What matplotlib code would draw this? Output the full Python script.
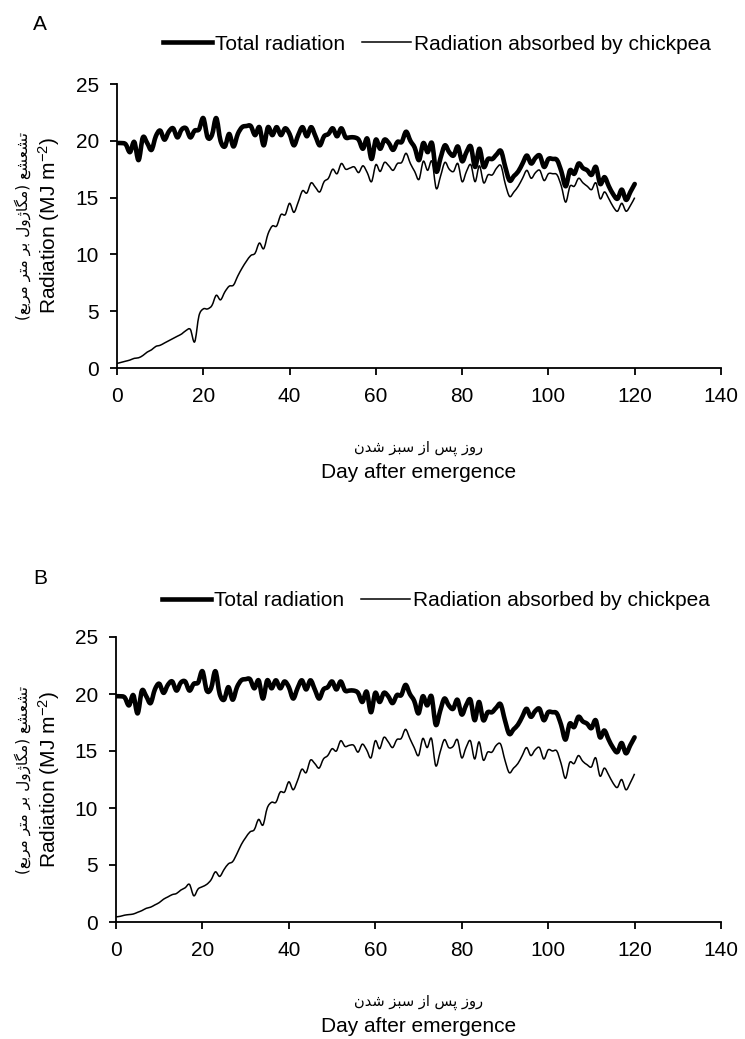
import matplotlib
matplotlib.use("Agg")
import matplotlib.pyplot as plt
from matplotlib.path import Path
from matplotlib.patches import PathPatch
from matplotlib.lines import Line2D

plt.rcParams["font.family"] = ["Liberation Sans", "DejaVu Sans"]
plt.rcParams["mathtext.fontset"] = "custom"
plt.rcParams["mathtext.rm"] = "Liberation Sans"
plt.rcParams["mathtext.it"] = "Liberation Sans:italic"

days = list(range(0, 121))

total_radiation = [
    19.8, 19.8, 19.7, 19.0, 19.9, 18.3, 20.3, 19.8, 19.2, 20.4,
    20.9, 20.1, 20.8, 21.1, 20.3, 21.0, 21.1, 20.3, 20.9, 21.0,
    22.0, 20.3, 20.5, 22.0, 20.0, 19.5, 20.6, 19.5, 20.6, 21.2,
    21.3, 21.3, 20.5, 21.2, 19.6, 21.2, 20.5, 21.2, 20.5, 21.1,
    20.6, 19.6, 20.5, 21.2, 20.4, 21.2, 20.4, 19.6, 20.4, 20.6,
    21.1, 20.4, 21.1, 20.3, 20.3, 20.3, 20.1, 19.3, 20.2, 18.4,
    20.1, 19.3, 20.1, 19.8, 19.2, 19.9, 19.9, 20.8, 20.0, 19.4,
    18.3, 19.8, 19.0, 19.8, 17.3, 18.5, 19.6, 19.0, 18.7, 19.5,
    18.2, 19.0, 19.5, 17.7, 19.3, 17.7, 18.4, 18.4, 18.8, 19.1,
    17.7, 16.5, 16.9, 17.3, 18.0, 18.7, 18.0, 18.5, 18.7, 17.7,
    18.4, 18.4, 18.3, 17.3, 16.0, 17.4, 17.1, 18.0, 17.6, 17.4,
    17.0, 17.7, 16.2, 16.8, 16.0, 15.3, 14.9, 15.7, 14.8, 15.5,
    16.2,
]

absorbed_a = [
    0.4, 0.5, 0.6, 0.7, 0.85, 0.9, 1.1, 1.4, 1.6, 1.9,
    2.0, 2.2, 2.4, 2.6, 2.8, 3.0, 3.3, 3.4, 2.3, 4.6,
    5.2, 5.2, 5.5, 6.4, 6.0, 6.7, 7.2, 7.3, 8.1, 8.8,
    9.4, 9.9, 10.1, 11.0, 10.5, 11.8, 12.5, 12.5, 13.5, 13.5,
    14.5, 13.7, 14.6, 15.6, 15.4, 16.3, 15.9, 15.5, 16.4, 16.7,
    17.5, 17.1, 18.0, 17.5, 17.6, 17.7, 17.2, 17.8, 17.2, 16.4,
    17.9, 17.3, 18.1, 17.8, 17.4, 18.0, 18.1, 18.9, 18.0, 17.3,
    16.6, 18.2, 17.4, 18.2, 15.8, 16.9, 18.1, 17.5, 17.3, 18.0,
    16.4, 17.3, 17.9, 16.4, 17.8, 16.3, 17.0, 17.0, 17.6, 17.8,
    16.2, 15.1, 15.5, 16.0, 16.7, 17.4, 16.7, 17.2, 17.4, 16.5,
    17.1, 17.1, 17.0, 16.0, 14.6, 16.0, 16.0, 16.7, 16.3, 16.0,
    15.7, 16.3, 14.9, 15.5, 14.9, 14.2, 13.8, 14.5, 13.8, 14.3,
    15.0,
]

absorbed_b = [
    0.45, 0.5, 0.6, 0.65, 0.7, 0.85, 1.0, 1.2, 1.3, 1.5,
    1.7, 2.0, 2.2, 2.4, 2.5, 2.8, 3.0, 3.3, 2.3, 2.9,
    3.1, 3.3, 3.7, 4.4, 4.0, 4.6, 5.1, 5.3, 6.0, 6.8,
    7.4, 7.9, 8.1, 9.0, 8.5, 10.0, 10.5, 10.5, 11.4, 11.4,
    12.3, 11.6, 12.4, 13.4, 13.1, 14.2, 13.9, 13.5, 14.3, 14.6,
    15.2, 15.0, 15.9, 15.4, 15.5, 15.5, 14.9, 15.6, 15.1, 14.4,
    15.9, 15.2, 16.2, 15.8, 15.3, 16.0, 16.1, 16.9, 16.1, 15.3,
    14.6, 16.1, 15.3, 16.1, 13.7, 14.9, 16.0, 15.3, 15.4, 16.0,
    14.4, 15.3, 15.9, 14.3, 15.8, 14.2, 14.9, 14.9, 15.5, 15.6,
    14.2, 13.1, 13.5, 13.9, 14.6, 15.3, 14.6, 15.1, 15.3, 14.3,
    15.1, 15.0, 15.0, 13.9, 12.6, 14.0, 13.9, 14.6, 14.1, 13.8,
    13.6, 14.4, 12.8, 13.5, 12.9, 12.2, 11.8, 12.5, 11.6, 12.2,
    13.0,
]

x_ticks = [0, 20, 40, 60, 80, 100, 120, 140]
y_ticks = [0, 5, 10, 15, 20, 25]

# Persian labels (logical order); shaped below because matplotlib has no bidi/shaping
FA_XLABEL = "روز پس از سبز شدن"
FA_YLABEL = "تشعشع (مگاژول بر متر مربع)"

# isolated, final, initial, medial
FORMS = {
    "ا": ("\uFE8D", "\uFE8E", None, None),
    "ب": ("\uFE8F", "\uFE90", "\uFE91", "\uFE92"),
    "پ": ("\uFB56", "\uFB57", "\uFB58", "\uFB59"),
    "ت": ("\uFE95", "\uFE96", "\uFE97", "\uFE98"),
    "د": ("\uFEA9", "\uFEAA", None, None),
    "ر": ("\uFEAD", "\uFEAE", None, None),
    "ز": ("\uFEAF", "\uFEB0", None, None),
    "ژ": ("\uFB8A", "\uFB8B", None, None),
    "س": ("\uFEB1", "\uFEB2", "\uFEB3", "\uFEB4"),
    "ش": ("\uFEB5", "\uFEB6", "\uFEB7", "\uFEB8"),
    "ع": ("\uFEC9", "\uFECA", "\uFECB", "\uFECC"),
    "گ": ("\uFB92", "\uFB93", "\uFB94", "\uFB95"),
    "ل": ("\uFEDD", "\uFEDE", "\uFEDF", "\uFEE0"),
    "م": ("\uFEE1", "\uFEE2", "\uFEE3", "\uFEE4"),
    "ن": ("\uFEE5", "\uFEE6", "\uFEE7", "\uFEE8"),
    "و": ("\uFEED", "\uFEEE", None, None),
}


def shape_rtl(text):
    out = []
    for i, c in enumerate(text):
        if c not in FORMS:
            out.append(c)
            continue
        iso, fin, ini, med = FORMS[c]
        prev = text[i - 1] if i > 0 else ""
        nxt = text[i + 1] if i + 1 < len(text) else ""
        jp = prev in FORMS and FORMS[prev][2] is not None
        jn = ini is not None and nxt in FORMS
        if jp and jn:
            out.append(med)
        elif jp:
            out.append(fin)
        elif jn:
            out.append(ini)
        else:
            out.append(iso)
    return "".join(reversed(out)).translate(str.maketrans("()", ")("))


def smooth_path(xs, ys):
    # Excel-style smoothed line: Bezier segments through the data points
    verts = [(xs[0], ys[0])]
    codes = [Path.MOVETO]
    n = len(xs)
    for i in range(n - 1):
        x0, y0 = (xs[i - 1], ys[i - 1]) if i > 0 else (xs[i], ys[i])
        x1, y1 = xs[i], ys[i]
        x2, y2 = xs[i + 1], ys[i + 1]
        x3, y3 = (xs[i + 2], ys[i + 2]) if i + 2 < n else (x2, y2)
        verts += [(x1 + (x2 - x0) / 6, y1 + (y2 - y0) / 6),
                  (x2 - (x3 - x1) / 6, y2 - (y3 - y1) / 6),
                  (x2, y2)]
        codes += [Path.CURVE4] * 3
    return Path(verts, codes)


FA_FONT = ["DejaVu Sans", "Noto Sans"]

W, H = 745, 1039
fig = plt.figure(figsize=(W / 100, H / 100), dpi=100)

panels = [
    ("A", absorbed_a, [117 / W, 1 - 368 / H, 604 / W, 284 / H], 40),
    ("B", absorbed_b, [116 / W, 1 - 922 / H, 605 / W, 285 / H], 36),
]

for letter, absorbed, rect, leg_off in panels:
    ax = fig.add_axes(rect)
    ax.add_patch(PathPatch(smooth_path(days, total_radiation), facecolor="none",
                           edgecolor="black", lw=3.3, joinstyle="round", capstyle="round"))
    ax.add_patch(PathPatch(smooth_path(days, absorbed), facecolor="none",
                           edgecolor="black", lw=1.1, joinstyle="round"))
    ax.set_xlim(0, 140)
    ax.set_ylim(0, 25)
    ax.set_xticks(x_ticks)
    ax.set_yticks(y_ticks)
    for s in ("top", "right"):
        ax.spines[s].set_visible(False)
    for s in ("left", "bottom"):
        ax.spines[s].set_linewidth(1.3)
    ax.tick_params(axis="both", direction="out", length=5, width=1.3, labelsize=15)
    ax.tick_params(axis="x", pad=9)
    ax.tick_params(axis="y", pad=8)

    x0, y0, w, h = rect
    xc = x0 + w / 2
    yc = y0 + h / 2
    # x labels
    fig.text(xc, y0 - 80 / H, shape_rtl(FA_XLABEL), ha="center", va="center",
             fontsize=10.5, family=FA_FONT)
    fig.text(xc, y0 - 105 / H, "Day after emergence", ha="center", va="center", fontsize=15)
    # y labels
    fig.text(23 / W, yc, shape_rtl(FA_YLABEL), ha="center", va="center", rotation=90,
             fontsize=11, family=FA_FONT)
    fig.text(49 / W, yc, "Radiation (MJ m$^{-2}$)", ha="center", va="center", rotation=90,
             fontsize=15)
    # panel letter
    fig.text(40 / W, y0 + h + 59 / H, letter, ha="center", va="center", fontsize=15)

    handles = [Line2D([], [], color="black", lw=3.3, label="Total radiation"),
               Line2D([], [], color="black", lw=1.1, label="Radiation absorbed by chickpea")]
    ax.legend(handles=handles, ncol=2, frameon=False, loc="center left",
              bbox_to_anchor=((163 - 117) / 604, 1 + leg_off / 284),
              fontsize=15, handlelength=2.35, handletextpad=0.15, columnspacing=0.8,
              borderaxespad=0, borderpad=0)

fig.savefig("out.png", dpi=100)
